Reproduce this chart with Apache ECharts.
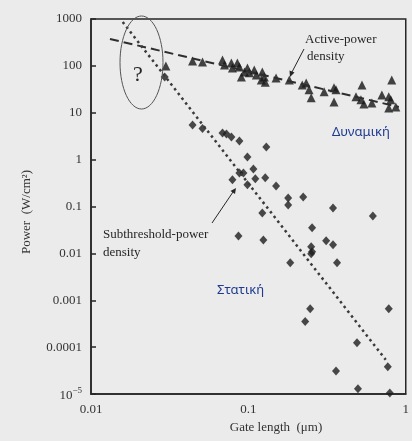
<!DOCTYPE html>
<html>
<head>
<meta charset="utf-8">
<script src="https://cdn.jsdelivr.net/npm/echarts@6/dist/echarts.min.js"></script>
<style>
  html, body { margin: 0; padding: 0; background: #ebebeb; }
  #chart { width: 412px; height: 441px; }
</style>
</head>
<body>
<div id="chart"></div>
<script>
// active-power density (triangles): gate length (um), power (W/cm2)
const activeGate = [0.0299, 0.0442, 0.0511, 0.0685, 0.0705, 0.078, 0.0792, 0.0851, 0.0877, 0.0903,
  0.0944, 0.0986, 0.1014, 0.109, 0.1124, 0.1208, 0.1226, 0.1263, 0.128, 0.150,
  0.182, 0.220, 0.233, 0.243, 0.2506, 0.303, 0.350, 0.3605, 0.350, 0.527,
  0.483, 0.519, 0.542, 0.609, 0.705, 0.780, 0.804, 0.815, 0.865, 0.780];
const activePower = [99.5, 127, 121, 134, 104, 115, 90, 115, 95, 58,
  74, 90, 71, 82, 64, 50, 74, 58, 45, 55,
  50, 39, 43, 31, 21, 28, 34, 31, 17, 39,
  22, 19, 15.4, 16.2, 24, 22, 19, 50, 13.3, 12.7];

// subthreshold-power density (diamonds)
const subGate = [0.0294, 0.0442, 0.0511, 0.0685, 0.0726, 0.078, 0.0877, 0.130, 0.0986, 0.1076,
  0.0877, 0.093, 0.0792, 0.0986, 0.1107, 0.128, 0.150, 0.179, 0.179, 0.223,
  0.345, 0.618, 0.1226, 0.254, 0.0865, 0.1245, 0.312, 0.345, 0.2506, 0.254,
  0.2506, 0.1845, 0.366, 0.247, 0.2296, 0.780, 0.490, 0.769, 0.3605, 0.497, 0.792];
const subPower = [58, 5.5, 4.6, 3.7, 3.5, 3.05, 2.5, 1.87, 1.14, 0.63,
  0.52, 0.52, 0.37, 0.29, 0.39, 0.41, 0.275, 0.152, 0.108, 0.16,
  0.093, 0.063, 0.073, 0.035, 0.0236, 0.0194, 0.0185, 0.0152, 0.0138, 0.0108,
  0.0098, 0.0063, 0.0063, 0.00066, 0.00035, 0.00066, 0.000124, 0.000038, 0.000031, 0.000013, 0.0000105];

// trend lines
const activeTrendGate = [0.0132, 0.904];
const activeTrendPower = [375, 13.3];
const subTrendGate = [0.0159, 0.746];
const subTrendPower = [863, 0.0000537];

// tick labels by decade exponent
const xTickLabels = { '-2': '0.01', '-1': '0.1', '0': '1' };
const yTickLabels = {
  '-5': '{b|10}{s|−5}', '-4': '0.0001', '-3': '0.001', '-2': '0.01', '-1': '0.1',
  '0': '1', '1': '10', '2': '100', '3': '1000'
};

const zip = (xs, ys) => xs.map((x, i) => [x, ys[i]]);

const serif = '"Liberation Serif", "DejaVu Serif", serif';
const ink = '#262626';
const greek = '#1f3b8f';

const chart = echarts.init(document.getElementById('chart'));

chart.setOption({
  backgroundColor: '#ebebeb',
  animation: false,
  grid: {
    left: 91, right: 5, top: 19, bottom: 47,
    show: true, borderColor: ink, borderWidth: 1.5, backgroundColor: 'transparent'
  },
  xAxis: {
    type: 'log', logBase: 10, min: 0.01, max: 1, interval: 1,
    axisLine: { lineStyle: { color: ink, width: 1.5 } },
    axisTick: { show: false },
    splitLine: { show: false },
    minorTick: { show: false },
    axisLabel: {
      color: '#333', fontFamily: serif, fontSize: 13, margin: 9,
      formatter: v => xTickLabels[String(Math.round(Math.log10(v)))] || ''
    }
  },
  yAxis: {
    type: 'log', logBase: 10, min: 0.00001, max: 1000, interval: 1,
    axisLine: { lineStyle: { color: ink, width: 1.5 } },
    axisTick: { show: true, inside: true, length: 5, lineStyle: { color: ink, width: 1.5 } },
    splitLine: { show: false },
    axisLabel: {
      color: '#333', fontFamily: serif, fontSize: 13, margin: 9,
      formatter: v => yTickLabels[String(Math.round(Math.log10(v)))] || '',
      rich: {
        b: { fontFamily: serif, fontSize: 13, color: '#333', lineHeight: 16, verticalAlign: 'bottom' },
        s: { fontFamily: serif, fontSize: 9, color: '#333', lineHeight: 16, verticalAlign: 'top' }
      }
    }
  },
  series: [
    {
      type: 'line', data: zip(activeTrendGate, activeTrendPower),
      symbol: 'none', silent: true,
      lineStyle: { color: '#2e2e2e', width: 2, type: [9, 5] }
    },
    {
      type: 'line', data: zip(subTrendGate, subTrendPower),
      symbol: 'none', silent: true,
      lineStyle: { color: '#3a3a3a', width: 2.5, type: [2.5, 3.5] }
    },
    {
      type: 'scatter', data: zip(activeGate, activePower),
      symbol: 'triangle', symbolSize: [9, 9],
      itemStyle: { color: '#161616' }
    },
    {
      type: 'scatter', data: zip(subGate, subPower),
      symbol: 'diamond', symbolSize: [8, 9],
      itemStyle: { color: '#1e1e1e' }
    }
  ],
  graphic: [
    // question-mark ellipse
    { type: 'ellipse', shape: { cx: 141.5, cy: 62.5, rx: 21.5, ry: 46.5 },
      style: { fill: 'none', stroke: '#555', lineWidth: 1 }, z: 10 },
    { type: 'text', x: 138, y: 75, z: 10,
      style: { text: '?', font: '22px ' + serif, fill: ink, align: 'center', verticalAlign: 'middle' } },
    // active-power label + arrow
    { type: 'text', x: 305, y: 40, z: 10,
      style: { text: 'Active-power', font: '13px ' + serif, fill: ink, verticalAlign: 'middle' } },
    { type: 'text', x: 307, y: 57, z: 10,
      style: { text: 'density', font: '13px ' + serif, fill: ink, verticalAlign: 'middle' } },
    { type: 'line', shape: { x1: 304, y1: 49, x2: 292, y2: 72 }, z: 10,
      style: { stroke: ink, lineWidth: 1 } },
    { type: 'polygon', shape: { points: [[290, 77], [289.5, 70.5], [294.5, 72.5]] }, z: 10,
      style: { fill: ink } },
    // subthreshold label + arrow
    { type: 'text', x: 103, y: 235, z: 10,
      style: { text: 'Subthreshold-power', font: '13px ' + serif, fill: ink, verticalAlign: 'middle' } },
    { type: 'text', x: 103, y: 253, z: 10,
      style: { text: 'density', font: '13px ' + serif, fill: ink, verticalAlign: 'middle' } },
    { type: 'line', shape: { x1: 212, y1: 223, x2: 233, y2: 192 }, z: 10,
      style: { stroke: ink, lineWidth: 1 } },
    { type: 'polygon', shape: { points: [[236, 188], [230.5, 191], [235, 194]] }, z: 10,
      style: { fill: ink } },
    // greek labels
    { type: 'text', x: 332, y: 132, z: 10,
      style: { text: 'Δυναμική', font: '13px "Noto Sans", sans-serif', fill: greek, verticalAlign: 'middle' } },
    { type: 'text', x: 217, y: 290, z: 10,
      style: { text: 'Στατική', font: '13px "Noto Sans", sans-serif', fill: greek, verticalAlign: 'middle' } },
    // axis names
    { type: 'text', x: 276, y: 428,
      style: { text: 'Gate length  (μm)', font: '13px ' + serif, fill: '#333', align: 'center', verticalAlign: 'middle' } },
    { type: 'text', x: 27, y: 212, rotation: Math.PI / 2,
      style: { text: 'Power  (W/cm²)', font: '13px ' + serif, fill: '#333', align: 'center', verticalAlign: 'middle' } }
  ]
});
</script>
</body>
</html>
